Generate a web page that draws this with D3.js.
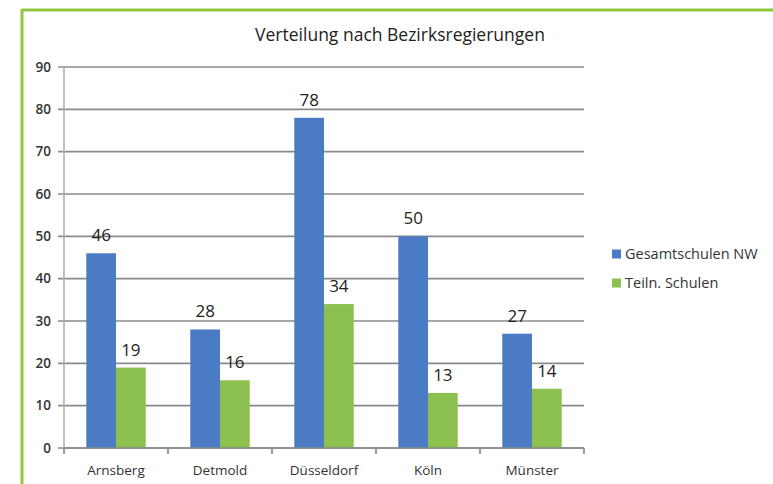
<!DOCTYPE html>
<html><head><meta charset="utf-8">
<script src="https://cdn.jsdelivr.net/npm/d3@7"></script>
<style>body{margin:0;background:#fff;}svg{display:block;}</style>
</head><body>
<svg id="c" width="773" height="484"></svg>
<script>
const categories = ["Arnsberg","Detmold","Düsseldorf","Köln","Münster"];
const seriesNames = ["Gesamtschulen NW","Teiln. Schulen"];
const gesamtschulen = [46,28,78,50,27];
const teilnSchulen = [19,16,34,13,14];
const yTicks = [0,10,20,30,40,50,60,70,80,90];
const colors = ["#4a7bc4","#8cc04f"];

const svg = d3.select("#c");
const font = "'Open Sans', sans-serif";
// green frame
svg.append("line").attr("x1",22).attr("x2",773).attr("y1",10).attr("y2",10).attr("stroke","#8dc63f").attr("stroke-width",3);
svg.append("line").attr("x1",22).attr("x2",22).attr("y1",9).attr("y2",484).attr("stroke","#8dc63f").attr("stroke-width",3);

const L=64,R=584,T=67,B=448;
const x = d3.scaleBand().domain(categories).range([L,R]).paddingInner(0).paddingOuter(0);
const y = d3.scaleLinear().domain([0,90]).range([B,T]);
const bw = x.bandwidth()/3.5;
const x1 = d3.scaleBand().domain(seriesNames).range([bw*0.75, bw*2.75]);

// gridlines
svg.append("g").selectAll("line").data(yTicks).join("line")
  .attr("x1",L-6).attr("x2",R).attr("y1",d=>y(d)).attr("y2",d=>y(d))
  .attr("stroke","#8a8a8a").attr("stroke-width",1.6);
// y axis
svg.append("line").attr("x1",L).attr("x2",L).attr("y1",T).attr("y2",B).attr("stroke","#b0b0b0").attr("stroke-width",1.6);
svg.append("g").selectAll("text").data(yTicks).join("text")
  .attr("x",L-13).attr("y",d=>y(d)).attr("dy","0.35em").attr("text-anchor","end")
  .attr("font-family",font).attr("font-size",13.5).attr("font-weight",600).attr("fill","#333").text(d=>d);

const data = categories.map((c,i)=>({c, vals:[gesamtschulen[i], teilnSchulen[i]]}));
const g = svg.append("g").selectAll("g").data(data).join("g").attr("transform",d=>`translate(${x(d.c)},0)`);
g.selectAll("rect").data(d=>d.vals.map((v,j)=>({v,j}))).join("rect")
  .attr("x",d=>x1(seriesNames[d.j])).attr("width",x1.bandwidth())
  .attr("y",d=>y(d.v)).attr("height",d=>y(0)-y(d.v)).attr("fill",d=>colors[d.j]);
g.selectAll("text").data(d=>d.vals.map((v,j)=>({v,j}))).join("text")
  .attr("x",d=>x1(seriesNames[d.j])+x1.bandwidth()/2).attr("y",d=>y(d.v)-12)
  .attr("text-anchor","middle").attr("font-family",font).attr("font-size",17).attr("fill","#222").text(d=>d.v);

// x axis
svg.append("line").attr("x1",L).attr("x2",R).attr("y1",B).attr("y2",B).attr("stroke","#8a8a8a").attr("stroke-width",1.6);
const xt = categories.map(c=>x(c)).concat([R]);
svg.append("g").selectAll("line").data(xt).join("line")
  .attr("x1",d=>d).attr("x2",d=>d).attr("y1",B).attr("y2",B+6).attr("stroke","#8a8a8a").attr("stroke-width",1.6);
svg.append("g").selectAll("text").data(categories).join("text")
  .attr("x",d=>x(d)+x.bandwidth()/2).attr("y",470).attr("dy","0.35em").attr("text-anchor","middle")
  .attr("font-family",font).attr("font-size",13.5).attr("fill","#333").text(d=>d);

// title
svg.append("text").attr("x",400).attr("y",35).attr("dy","0.35em").attr("text-anchor","middle")
  .attr("font-family",font).attr("font-size",17.5).attr("fill","#222").text("Verteilung nach Bezirksregierungen");

// legend
const lg = svg.append("g").selectAll("g").data(seriesNames).join("g")
  .attr("transform",(d,i)=>`translate(612,${254+i*29})`);
lg.append("rect").attr("x",0).attr("y",-4.5).attr("width",9).attr("height",9).attr("fill",(d,i)=>colors[i]);
lg.append("text").attr("x",13).attr("y",0).attr("dy","0.35em").attr("font-family",font).attr("font-size",14.5).attr("fill","#333").text(d=>d);
</script>
</body></html>
